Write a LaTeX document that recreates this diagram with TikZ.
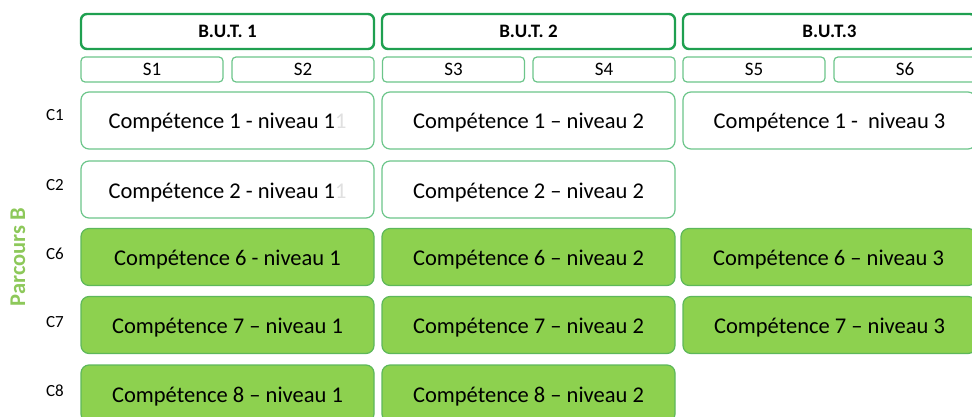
\documentclass[tikz,border=0pt]{standalone}
\usepackage{fontspec}
\setmainfont{Carlito}
\definecolor{hdr}{HTML}{1FA050}
\definecolor{lite}{HTML}{6CC58A}
\definecolor{gfill}{HTML}{8DD14F}
\definecolor{gline}{HTML}{5DB85A}
\definecolor{parc}{HTML}{8DC85A}
\tikzset{
  hdrbox/.style={draw=hdr, line width=2.4pt, rounded corners=6pt, fill=white, minimum width=293pt, minimum height=35pt, font=\fontsize{19}{22}\selectfont\bfseries, inner sep=0pt},
  sembox/.style={draw=lite, line width=1.2pt, rounded corners=4pt, fill=white, minimum width=142pt, minimum height=25pt, font=\fontsize{19}{22}\selectfont, inner sep=0pt},
  bigtext/.style={font=\fontsize{22.5}{26}\selectfont, inner sep=0pt, text height=18.5pt, text depth=1.5pt, minimum width=293pt, minimum height=57pt, line width=1.2pt, rounded corners=8pt},
  wbox/.style={bigtext, draw=lite, fill=white},
  gbox/.style={bigtext, draw=gline, fill=gfill},
  rowlab/.style={font=\fontsize{17}{20}\selectfont, inner sep=0pt}
}
\newcommand{\gone}{\textcolor{black!12}{1}}
\begin{document}
\begin{tikzpicture}[x=1pt,y=-1pt]
\useasboundingbox (0,0) rectangle (972,417);
\clip (0,0) rectangle (972,417);
% headers
\node[hdrbox] (b1) at (227.5,31.5) {B.U.T. 1};
\node[hdrbox] (b2) at (528.5,31.5) {B.U.T. 2};
\node[hdrbox] (b3) at (829.5,31.5) {B.U.T.3};
% semesters
\node[sembox] (s1) at (152,69.5) {S1};
\node[sembox] (s2) at (303,69.5) {S2};
\node[sembox] (s3) at (453.5,69.5) {S3};
\node[sembox] (s4) at (604,69.5) {S4};
\node[sembox] (s5) at (754,69.5) {S5};
\node[sembox] (s6) at (905,69.5) {S6};
% row labels
\node[rowlab] (l1) at (55,115) {C1};
\node[rowlab] (l2) at (55,185) {C2};
\node[rowlab] (l6) at (55,254) {C6};
\node[rowlab] (l7) at (55,322) {C7};
\node[rowlab] (l8) at (55,391) {C8};
\node[rotate=90, text=parc, font=\fontsize{22.5}{26}\selectfont\bfseries, inner sep=0pt] (pb) at (18,257) {Parcours B};
% C1
\node[wbox] (c11) at (227.5,120.5) {Compétence 1 - niveau 1\gone};
\node[wbox] (c12) at (528.5,120.5) {Compétence 1 – niveau 2};
\node[wbox] (c13) at (829.5,120.5) {Compétence 1 -\ \ niveau 3};
% C2
\node[wbox] (c21) at (227.5,189.5) {Compétence 2 - niveau 1\gone};
\node[wbox] (c22) at (528.5,189.5) {Compétence 2 – niveau 2};
% C6
\node[gbox] (c61) at (227.5,257) {Compétence 6 - niveau 1};
\node[gbox] (c62) at (528.5,257) {Compétence 6 – niveau 2};
\node[gbox, minimum width=295pt] (c63) at (828.5,257) {Compétence 6 – niveau 3};
% C7
\node[gbox] (c71) at (227.5,325) {Compétence 7 – niveau 1};
\node[gbox] (c72) at (528.5,325) {Compétence 7 – niveau 2};
\node[gbox] (c73) at (829.5,325) {Compétence 7 – niveau 3};
% C8
\node[gbox] (c81) at (227.5,393.5) {Compétence 8 – niveau 1};
\node[gbox] (c82) at (528.5,393.5) {Compétence 8 – niveau 2};
\end{tikzpicture}
\end{document}
